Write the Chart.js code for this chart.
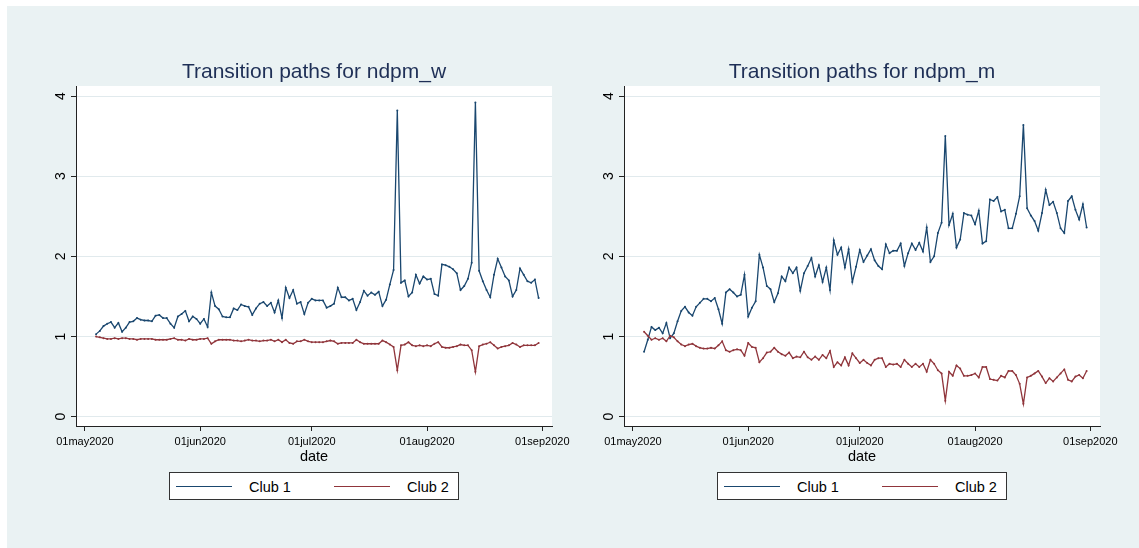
<!DOCTYPE html>
<html>
<head>
<meta charset="utf-8">
<script src="https://cdn.jsdelivr.net/npm/chart.js@4.4.1/dist/chart.umd.min.js"></script>
<style>
    body {
        margin: 0;
        width: 1139px;
        height: 548px;
        background: #ffffff;
        position: relative;
        overflow: hidden;
        font-family: "Liberation Sans", Arial, sans-serif;
    }
    #bg {
        position: absolute;
        left: 7px;
        top: 6px;
        width: 1132px;
        height: 542px;
        background: #eaf2f3;
    }
    canvas {
        position: absolute;
        top: 6px;
    }
    #chartW { left: 7px; }
    #chartM { left: 555px; }
    .legend {
        position: absolute;
        top: 472px;
        width: 288px;
        height: 26px;
        border: 1px solid #333;
        background: #fff;
    }
    .legend .line {
        position: absolute;
        top: 13px;
        width: 56px;
        height: 0;
        border-top: 1.5px solid;
    }
    .legend span {
        position: absolute;
        top: 5px;
        font-size: 14.5px;
        line-height: 18px;
        color: #000;
    }
</style>
</head>
<body>
<div id="bg"></div>
<canvas id="chartW" width="580" height="466"></canvas>
<canvas id="chartM" width="580" height="466"></canvas>

<div class="legend" style="left:169px">
    <div class="line" style="left:6px; border-color:#1a476f"></div>
    <span style="left:79px">Club 1</span>
    <div class="line" style="left:164px; border-color:#90353b"></div>
    <span style="left:237px">Club 2</span>
</div>
<div class="legend" style="left:717px">
    <div class="line" style="left:6px; border-color:#1a476f"></div>
    <span style="left:79px">Club 1</span>
    <div class="line" style="left:164px; border-color:#90353b"></div>
    <span style="left:237px">Club 2</span>
</div>

<script>
// -----------------------------
// DATA (daily, 04may2020 .. 31aug2020)
// -----------------------------
const firstDate = "2020-05-04";
const baseDate = "2020-05-01";

const club1_w = [
    1.03, 1.07, 1.13, 1.16, 1.18, 1.11, 1.17, 1.06, 1.11, 1.18,
    1.19, 1.23, 1.21, 1.20, 1.20, 1.19, 1.26, 1.27, 1.23, 1.23,
    1.16, 1.11, 1.25, 1.28, 1.32, 1.19, 1.25, 1.22, 1.16, 1.22,
    1.12, 1.55, 1.38, 1.34, 1.25, 1.24, 1.24, 1.35, 1.33, 1.40,
    1.38, 1.37, 1.27, 1.35, 1.41, 1.43, 1.38, 1.42, 1.30, 1.45,
    1.23, 1.61, 1.48, 1.58, 1.41, 1.43, 1.28, 1.42, 1.47, 1.45,
    1.45, 1.45, 1.36, 1.38, 1.41, 1.61, 1.49, 1.49, 1.45, 1.47,
    1.33, 1.43, 1.57, 1.51, 1.55, 1.52, 1.56, 1.38, 1.46, 1.65,
    1.83, 3.82, 1.67, 1.70, 1.50, 1.55, 1.77, 1.66, 1.75, 1.71,
    1.72, 1.53, 1.51, 1.90, 1.89, 1.87, 1.84, 1.79, 1.58, 1.63,
    1.72, 1.92, 3.92, 1.82, 1.69, 1.58, 1.49, 1.77, 1.97, 1.86,
    1.75, 1.70, 1.50, 1.58, 1.85, 1.77, 1.69, 1.67, 1.71, 1.48
];

const club2_w = [
    1.00, 0.99, 0.98, 0.97, 0.97, 0.98, 0.97, 0.98, 0.98, 0.97,
    0.97, 0.96, 0.97, 0.97, 0.97, 0.97, 0.96, 0.96, 0.96, 0.96,
    0.97, 0.98, 0.96, 0.96, 0.95, 0.97, 0.96, 0.96, 0.97, 0.97,
    0.98, 0.91, 0.94, 0.96, 0.96, 0.96, 0.96, 0.95, 0.95, 0.94,
    0.95, 0.96, 0.95, 0.95, 0.94, 0.95, 0.95, 0.96, 0.94, 0.96,
    0.93, 0.96, 0.92, 0.91, 0.94, 0.94, 0.96, 0.94, 0.93, 0.93,
    0.93, 0.93, 0.94, 0.95, 0.94, 0.91, 0.92, 0.92, 0.92, 0.92,
    0.96, 0.93, 0.91, 0.91, 0.91, 0.91, 0.91, 0.95, 0.93, 0.90,
    0.87, 0.58, 0.89, 0.90, 0.93, 0.89, 0.88, 0.89, 0.88, 0.89,
    0.88, 0.91, 0.93, 0.87, 0.86, 0.86, 0.87, 0.88, 0.90, 0.89,
    0.89, 0.83, 0.56, 0.88, 0.90, 0.91, 0.93, 0.89, 0.85, 0.87,
    0.88, 0.89, 0.92, 0.90, 0.87, 0.89, 0.89, 0.89, 0.89, 0.92
];

const club1_m = [
    0.81, 0.96, 1.12, 1.08, 1.11, 1.04, 1.17, 0.98, 1.04, 1.19,
    1.32, 1.37, 1.30, 1.26, 1.37, 1.42, 1.47, 1.47, 1.44, 1.48,
    1.34, 1.16, 1.55, 1.59, 1.55, 1.50, 1.52, 1.77, 1.25, 1.36,
    1.44, 2.02, 1.86, 1.63, 1.59, 1.43, 1.54, 1.75, 1.69, 1.86,
    1.79, 1.86, 1.57, 1.79, 1.88, 1.98, 1.75, 1.89, 1.68, 1.86,
    1.58, 2.20, 2.02, 2.11, 1.86, 2.09, 1.68, 1.87, 2.08, 1.93,
    2.01, 2.09, 1.95, 1.88, 1.84, 2.15, 2.04, 2.07, 2.07, 2.16,
    1.88, 2.04, 2.16, 2.08, 2.17, 2.06, 2.36, 1.93, 2.00, 2.29,
    2.42, 3.50, 2.39, 2.53, 2.11, 2.21, 2.54, 2.52, 2.51, 2.40,
    2.57, 2.16, 2.19, 2.71, 2.69, 2.74, 2.56, 2.58, 2.35, 2.35,
    2.53, 2.75, 3.64, 2.60, 2.51, 2.44, 2.32, 2.54, 2.83, 2.64,
    2.68, 2.54, 2.35, 2.29, 2.69, 2.75, 2.58, 2.46, 2.65, 2.36
];

const club2_m = [
    1.06, 1.01, 0.96, 0.98, 0.96, 0.98, 0.94, 1.01, 0.99, 0.94,
    0.90, 0.88, 0.90, 0.91, 0.88, 0.86, 0.85, 0.85, 0.86, 0.85,
    0.89, 0.94, 0.83, 0.81, 0.83, 0.84, 0.83, 0.76, 0.92, 0.87,
    0.86, 0.68, 0.73, 0.80, 0.81, 0.86, 0.81, 0.78, 0.76, 0.80,
    0.73, 0.75, 0.74, 0.81, 0.74, 0.71, 0.75, 0.71, 0.77, 0.73,
    0.82, 0.62, 0.68, 0.64, 0.74, 0.64, 0.79, 0.73, 0.67, 0.71,
    0.67, 0.64, 0.71, 0.73, 0.73, 0.62, 0.66, 0.65, 0.66, 0.62,
    0.71, 0.66, 0.62, 0.66, 0.62, 0.66, 0.56, 0.71, 0.66, 0.58,
    0.54, 0.20, 0.56, 0.51, 0.64, 0.60, 0.51, 0.51, 0.52, 0.54,
    0.49, 0.62, 0.62, 0.47, 0.46, 0.45, 0.51, 0.49, 0.57, 0.57,
    0.52, 0.41, 0.16, 0.49, 0.51, 0.54, 0.57, 0.50, 0.42, 0.48,
    0.44, 0.49, 0.54, 0.59, 0.46, 0.44, 0.50, 0.52, 0.48, 0.57
];

const xTickDates = ["2020-05-01", "2020-06-01", "2020-07-01", "2020-08-01", "2020-09-01"];
const xTickLabels = ["01may2020", "01jun2020", "01jul2020", "01aug2020", "01sep2020"];
const yTicks = [0, 1, 2, 3, 4];

// -----------------------------
// HELPERS
// -----------------------------
const FONT = '"Liberation Sans", Arial, sans-serif';
const DAY = 86400000;

const dayOf = (d) => (Date.parse(d) - Date.parse(baseDate)) / DAY;

// one x per observation, consecutive days from firstDate
const obsDays = club1_w.map((_, i) => dayOf(firstDate) + i);
const xTickDays = xTickDates.map(dayOf);

const toPoints = (values) => values.map((v, i) => ({ x: obsDays[i], y: v }));

// white plot region
const plotBg = {
    id: "plotBg",
    beforeDraw(chart) {
        const { ctx, chartArea: a } = chart;
        ctx.save();
        ctx.fillStyle = "#ffffff";
        ctx.fillRect(a.left, a.top, a.right - a.left, a.bottom - a.top);
        ctx.restore();
    }
};

// vertical y labels (Stata style)
const yLabels = {
    id: "yLabels",
    afterDraw(chart) {
        const ctx = chart.ctx;
        const s = chart.scales.y;
        ctx.save();
        ctx.font = "14px " + FONT;
        ctx.fillStyle = "#000";
        ctx.textAlign = "center";
        ctx.textBaseline = "middle";
        yTicks.forEach(v => {
            ctx.save();
            ctx.translate(s.right - 15, s.getPixelForValue(v));
            ctx.rotate(-Math.PI / 2);
            ctx.fillText(String(v), 0, 0);
            ctx.restore();
        });
        ctx.restore();
    }
};

// -----------------------------
// CHART BUILDER
// -----------------------------
function makeChart(id, title, c1, c2) {

    const ctx = document.getElementById(id).getContext("2d");

    return new Chart(ctx, {
        type: "line",
        data: {
            datasets: [
                {
                    label: "Club 1",
                    data: toPoints(c1),
                    borderColor: "#1a476f",
                    backgroundColor: "#1a476f",
                    borderWidth: 1.3,
                    pointRadius: 1,
                    pointBorderWidth: 0,
                    tension: 0,
                    order: 1
                },
                {
                    label: "Club 2",
                    data: toPoints(c2),
                    borderColor: "#90353b",
                    backgroundColor: "#90353b",
                    borderWidth: 1.3,
                    pointRadius: 1,
                    pointBorderWidth: 0,
                    tension: 0,
                    order: 0
                }
            ]
        },
        options: {
            responsive: false,
            animation: false,
            events: [],
            layout: {
                padding: { left: 69, right: 35, top: 0, bottom: 0 }
            },
            plugins: {
                legend: { display: false },
                tooltip: { enabled: false },
                title: {
                    display: true,
                    text: title,
                    color: "#1e2f56",
                    font: { size: 21, family: FONT, weight: "normal" },
                    padding: { top: 54, bottom: 0.8 }
                }
            },
            scales: {
                x: {
                    type: "linear",
                    min: -2.4,
                    max: 125.6,
                    afterBuildTicks: s => {
                        s.ticks = xTickDays.map(v => ({ value: v }));
                    },
                    afterFit: s => { s.height = 46; },
                    ticks: {
                        callback: (v, i) => xTickLabels[i],
                        font: { size: 11, family: FONT },
                        color: "#000",
                        padding: 4,
                        maxRotation: 0,
                        autoSkip: false
                    },
                    grid: {
                        drawOnChartArea: false,
                        tickLength: 5,
                        tickColor: "#222"
                    },
                    border: { color: "#222", width: 1 },
                    title: {
                        display: true,
                        text: "date",
                        color: "#000",
                        font: { size: 14.5, family: FONT },
                        padding: { top: 0, bottom: 6.6 }
                    }
                },
                y: {
                    min: -0.116,
                    max: 4.125,
                    afterBuildTicks: s => {
                        s.ticks = yTicks.map(v => ({ value: v }));
                    },
                    afterFit: s => { s.width = 0; },
                    ticks: { display: false },
                    grid: {
                        color: "#e1eaed",
                        lineWidth: 1,
                        tickLength: 5,
                        tickColor: "#222"
                    },
                    border: { color: "#222", width: 1 }
                }
            }
        },
        plugins: [plotBg, yLabels]
    });
}

makeChart("chartW", "Transition paths for ndpm_w", club1_w, club2_w);
makeChart("chartM", "Transition paths for ndpm_m", club1_m, club2_m);
</script>
</body>
</html>
